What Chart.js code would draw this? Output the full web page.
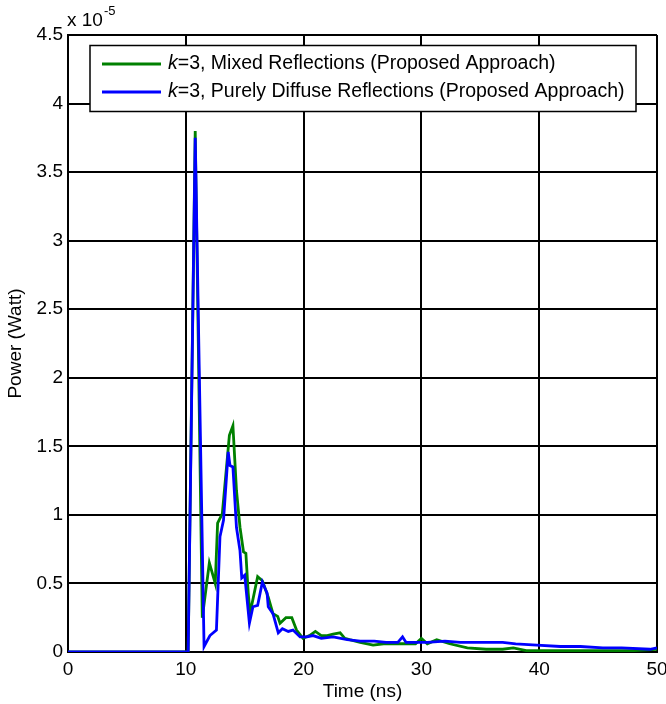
<!DOCTYPE html>
<html>
<head>
<meta charset="utf-8">
<script src="https://cdn.jsdelivr.net/npm/chart.js@4"></script>
<style>
  html, body { margin: 0; padding: 0; background: #fff; }
  #wrap { width: 666px; height: 704px; }
</style>
</head>
<body>
<div id="wrap"><canvas id="powerChart" width="666" height="704"></canvas></div>
<script>
// values in units of 1e-5 W
const mixedT = [0, 10.2, 10.8, 11.4, 12.0, 12.5, 12.7, 13.1, 13.7, 14.0, 14.3, 14.6, 14.9, 15.1, 15.3, 15.45, 16.1, 16.5, 17.0, 17.4, 17.8, 18.0, 18.5, 19.0, 19.4, 19.95, 20.5, 21.0, 21.5, 22.0, 22.5, 23.1, 23.5, 23.9, 24.8, 25.9, 26.8, 27.6, 28.4, 29.5, 30.0, 30.5, 31.3, 32.4, 33.9, 35.5, 36.9, 37.8, 38.9, 42, 45, 48, 50];
const mixedP = [0, 0, 3.80, 0.25, 0.65, 0.50, 0.94, 1.01, 1.58, 1.65, 1.18, 0.91, 0.73, 0.72, 0.43, 0.28, 0.55, 0.52, 0.40, 0.28, 0.26, 0.21, 0.25, 0.25, 0.16, 0.10, 0.12, 0.15, 0.12, 0.12, 0.13, 0.14, 0.10, 0.09, 0.07, 0.05, 0.06, 0.06, 0.06, 0.06, 0.10, 0.06, 0.09, 0.06, 0.03, 0.02, 0.02, 0.03, 0.01, 0.01, 0.01, 0.01, 0.02];

const diffuseT = [0, 10.2, 10.8, 11.55, 12.05, 12.6, 12.9, 13.2, 13.6, 13.75, 14.0, 14.3, 14.6, 14.75, 15.0, 15.4, 15.7, 16.1, 16.5, 16.9, 17.0, 17.4, 17.85, 18.2, 18.7, 19.1, 19.7, 20.3, 20.8, 21.5, 22.5, 23.7, 24.8, 26, 27, 28.0, 28.4, 28.7, 30.5, 32, 33.3, 34.7, 36.9, 38, 39.8, 41.8, 43.5, 45.4, 47, 49.4, 50];
const diffuseP = [0, 0, 3.75, 0.04, 0.12, 0.16, 0.84, 0.96, 1.46, 1.36, 1.35, 0.91, 0.74, 0.54, 0.56, 0.21, 0.33, 0.34, 0.51, 0.43, 0.33, 0.28, 0.14, 0.17, 0.15, 0.16, 0.11, 0.11, 0.12, 0.10, 0.11, 0.09, 0.08, 0.08, 0.07, 0.07, 0.11, 0.07, 0.07, 0.08, 0.07, 0.07, 0.07, 0.06, 0.05, 0.04, 0.04, 0.03, 0.03, 0.02, 0.03];

const xTicks = [0, 10, 20, 30, 40, 50];
const yTicks = [0, 0.5, 1, 1.5, 2, 2.5, 3, 3.5, 4, 4.5];
const seriesNames = ['Mixed Reflections (Proposed Approach)', 'Purely Diffuse Reflections (Proposed Approach)'];
const seriesColors = ['#008000', '#0000ff'];

const FONT = '"Liberation Sans", Arial, sans-serif';

function toPoints(ts, ps) {
    return ts.map((t, i) => ({ x: t, y: ps[i] }));
}

// legend box + exponent label, matlab style
const decorPlugin = {
    id: 'decor',
    afterDraw(chart) {
        const ctx = chart.ctx;
        const area = chart.chartArea;
        ctx.save();

        ctx.fillStyle = '#000';
        ctx.textBaseline = 'alphabetic';
        ctx.textAlign = 'left';
        ctx.font = '19px ' + FONT;
        ctx.fillText('x 10', area.left - 1, 26);
        const w = ctx.measureText('x 10').width;
        ctx.font = '13px ' + FONT;
        ctx.fillText('-5', area.left + w, 15);

        const bx = 90, by = 45.5, bw = 546, bh = 66;
        ctx.fillStyle = '#fff';
        ctx.fillRect(bx, by, bw, bh);
        ctx.strokeStyle = '#000';
        ctx.lineWidth = 1.5;
        ctx.strokeRect(bx, by, bw, bh);

        const rows = [64, 92];
        rows.forEach((ry, i) => {
            ctx.strokeStyle = seriesColors[i];
            ctx.lineWidth = 2.8;
            ctx.beginPath();
            ctx.moveTo(102, ry);
            ctx.lineTo(161, ry);
            ctx.stroke();

            ctx.fillStyle = '#000';
            ctx.textBaseline = 'middle';
            ctx.font = 'italic 19.5px ' + FONT;
            ctx.fillText('k', 168, ry);
            const kw = ctx.measureText('k').width;
            ctx.font = '19.5px ' + FONT;
            ctx.fillText('=3, ' + seriesNames[i], 168 + kw, ry);
        });
        ctx.restore();
    }
};

new Chart(document.getElementById('powerChart').getContext('2d'), {
    type: 'line',
    data: {
        datasets: [
            {
                label: 'k=3, ' + seriesNames[0],
                data: toPoints(mixedT, mixedP),
                borderColor: seriesColors[0],
                borderWidth: 2.8,
                pointRadius: 0,
                tension: 0,
                fill: false,
                order: 2
            },
            {
                label: 'k=3, ' + seriesNames[1],
                data: toPoints(diffuseT, diffuseP),
                borderColor: seriesColors[1],
                borderWidth: 2.8,
                pointRadius: 0,
                tension: 0,
                fill: false,
                order: 1
            }
        ]
    },
    options: {
        responsive: false,
        animation: false,
        layout: { padding: { left: 0, top: 35, right: 9, bottom: 0 } },
        plugins: {
            legend: { display: false },
            tooltip: { enabled: false }
        },
        scales: {
            x: {
                type: 'linear',
                min: 0,
                max: 50,
                afterBuildTicks: s => { s.ticks = xTicks.map(v => ({ value: v })); },
                afterFit: s => { s.height = 52; s.paddingRight = 0; s.paddingLeft = 0; },
                ticks: {
                    color: '#000',
                    padding: 6,
                    maxRotation: 0,
                    font: { family: FONT, size: 19 }
                },
                grid: { color: '#000', lineWidth: 2, drawTicks: false },
                border: { color: '#000', width: 2 },
                title: {
                    display: true,
                    text: 'Time (ns)',
                    color: '#000',
                    padding: { top: 0, bottom: 1 },
                    font: { family: FONT, size: 19 }
                }
            },
            y: {
                type: 'linear',
                min: 0,
                max: 4.5,
                afterBuildTicks: s => { s.ticks = yTicks.map(v => ({ value: v })); },
                afterFit: s => { s.width = 68; },
                ticks: {
                    color: '#000',
                    padding: 5,
                    font: { family: FONT, size: 19 },
                    callback: v => String(v)
                },
                grid: { color: '#000', lineWidth: 2, drawTicks: false },
                border: { color: '#000', width: 2 },
                title: {
                    display: true,
                    text: 'Power (Watt)',
                    color: '#000',
                    padding: { top: 4, bottom: 0 },
                    font: { family: FONT, size: 19 }
                }
            }
        }
    },
    plugins: [decorPlugin]
});
</script>
</body>
</html>
